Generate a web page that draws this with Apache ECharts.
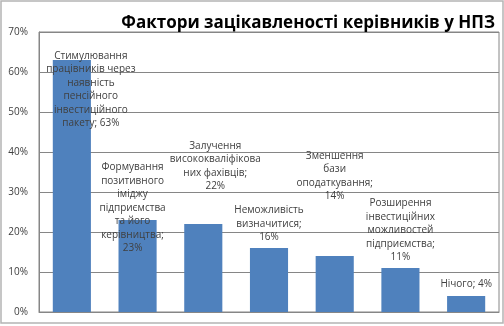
<!DOCTYPE html>
<html><head><meta charset="utf-8">
<script src="https://cdn.jsdelivr.net/npm/echarts@6/dist/echarts.min.js"></script>
<style>html,body{margin:0;padding:0;background:#fff}#c{width:504px;height:326px}</style>
</head><body><div id="c"></div>
<script>
var title = 'Фактори зацікавленості керівників у НПЗ';
var categories = [
  'Стимулювання\nпрацівників через\nнаявність\nпенсійного\nінвестиційного\nпакету',
  'Формування\nпозитивного\nіміджу\nпідприємства\nта його\nкерівництва',
  'Залучення\nвисококваліфікова\nних фахівців',
  'Неможливість\nвизначитися',
  'Зменшення\nбази\nоподаткування',
  'Розширення\nінвестиційних\nможливостей\nпідприємства',
  'Нічого'
];
var values = [63, 23, 22, 16, 14, 11, 4];
var valueJoin = [' ', '\n', '\n', '\n', '\n', '\n', ' '];
var yTicks = [0, 10, 20, 30, 40, 50, 60, 70];
// label placement tweaks (style only)
var labelOffsets = [[19, 75], [-5, 40], [12, -26], [0, 1], [0, -48], [0, 1], [0, 0]];

var chart = echarts.init(document.getElementById('c'), null, {renderer: 'canvas'});
var data = values.map(function (v, i) {
  return { value: v, label: { offset: labelOffsets[i] } };
});
chart.setOption({
  animation: false,
  title: {
    text: title, right: 4, top: 10,
    textStyle: { fontFamily: 'Open Sans', fontWeight: 'bold', fontSize: 17, color: '#000' }
  },
  graphic: [{
    type: 'rect', shape: { x: 1, y: 1, width: 502, height: 322 },
    style: { fill: 'none', stroke: '#b4b4b4', lineWidth: 1.5 }, silent: true, z: -1
  }],
  grid: { left: 39, right: 5, top: 32, bottom: 14, show: true, borderColor: '#868686', borderWidth: 1 },
  xAxis: {
    type: 'category', data: categories,
    axisLine: { lineStyle: { color: '#868686' } },
    axisTick: { show: false }, axisLabel: { show: false }
  },
  yAxis: {
    type: 'value', min: yTicks[0], max: yTicks[yTicks.length - 1], interval: yTicks[1] - yTicks[0],
    axisLine: { show: true, lineStyle: { color: '#868686' } },
    axisTick: { show: false },
    splitLine: { lineStyle: { color: '#868686' } },
    axisLabel: { formatter: '{value}%', color: '#404040', fontFamily: 'Open Sans', fontSize: 10, margin: 11 }
  },
  series: [{
    type: 'bar', data: data, barWidth: '58%',
    itemStyle: { color: '#4F81BD' },
    label: {
      show: true, position: 'top', distance: 5,
      fontFamily: 'Open Sans', fontSize: 10, lineHeight: 13.5, color: '#404040', align: 'center',
      formatter: function (p) {
        return categories[p.dataIndex] + ';' + valueJoin[p.dataIndex] + values[p.dataIndex] + '%';
      }
    }
  }]
});
</script></body></html>
